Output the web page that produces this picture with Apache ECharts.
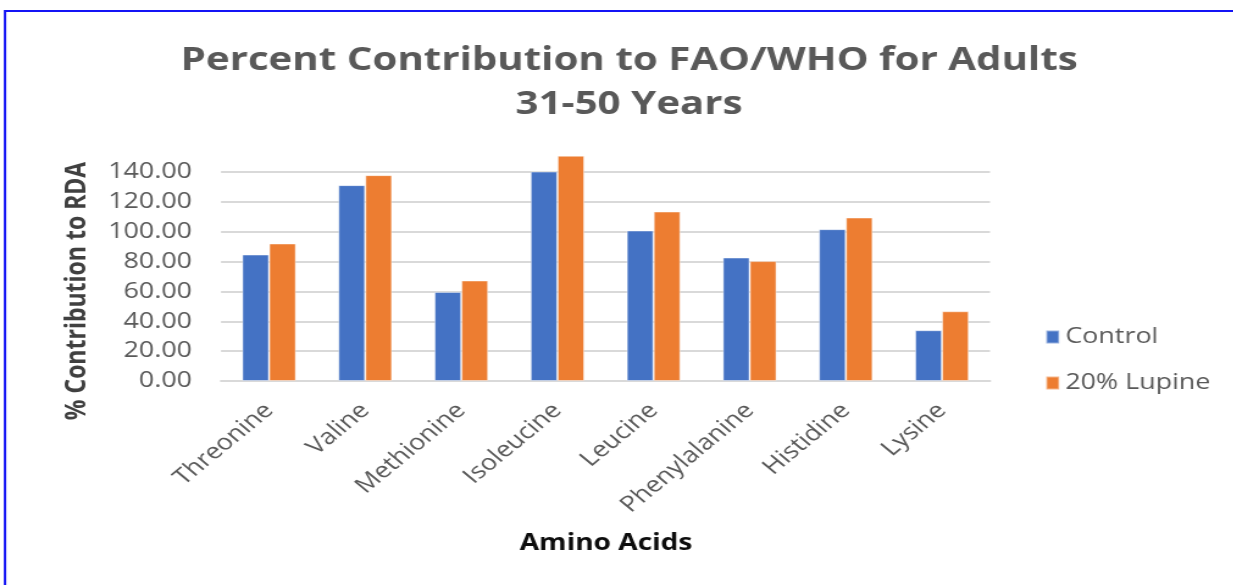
<!DOCTYPE html>
<html>
<head>
<meta charset="utf-8">
<script src="https://cdn.jsdelivr.net/npm/echarts@6/dist/echarts.min.js"></script>
<style>
  html, body { margin: 0; padding: 0; background: #fff; overflow: hidden; }
  #wrap { width: 1234px; height: 585px; overflow: hidden; position: relative; }
  #chart { height: 585px; transform-origin: 0 0; }
</style>
</head>
<body>
<div id="wrap"><div id="chart"></div></div>
<script>
// Amino acid contribution (% of RDA), adults 31-50 years
const categories = ['Threonine', 'Valine', 'Methionine', 'Isoleucine', 'Leucine', 'Phenylalanine', 'Histidine', 'Lysine'];
const controlValues = [84.7, 131.2, 59.7, 140.3, 100.8, 82.7, 101.7, 34.0];
const lupineValues = [92.1, 137.9, 67.3, 150.9, 113.5, 80.3, 109.5, 46.7];
const seriesNames = ['Control', '20% Lupine'];

// The chart is drawn on a narrower canvas and widened horizontally,
// giving the broad lettering of the original workbook chart.
const S = 1.22;
const W = 1234 / S;
const px = x => x / S;

const el = document.getElementById('chart');
el.style.width = W + 'px';
el.style.transform = 'scaleX(' + S + ')';

const chart = echarts.init(el, null, { renderer: 'canvas', width: W, height: 585 });

const FONT = '"Open Sans", "Noto Sans", sans-serif';
const GRID = '#d9d9d9';

chart.setOption({
  animation: false,
  backgroundColor: '#ffffff',
  title: {
    text: 'Percent Contribution to FAO/WHO for Adults\n31-50 Years',
    left: px(623),
    top: 34,
    textAlign: 'center',
    textStyle: {
      fontFamily: FONT,
      fontWeight: 'bold',
      fontSize: 33,
      lineHeight: 44,
      color: '#595959'
    }
  },
  legend: {
    orient: 'vertical',
    left: px(1045),
    top: 326,
    padding: 0,
    icon: 'rect',
    itemWidth: px(13),
    itemHeight: 13,
    itemGap: 24,
    itemTextGap: px(10),
    textStyle: { fontFamily: FONT, fontSize: 22, color: '#595959' },
    data: seriesNames
  },
  grid: {
    left: px(221),
    right: W - px(990),
    top: 172,
    bottom: 585 - 381,
    containLabel: false
  },
  xAxis: {
    type: 'category',
    data: categories,
    axisLine: { lineStyle: { color: GRID, width: 2 } },
    axisTick: { show: false },
    axisLabel: {
      rotate: 45,
      margin: 26,
      interval: 0,
      fontFamily: FONT,
      fontSize: 22,
      color: '#595959'
    }
  },
  yAxis: {
    type: 'value',
    min: 0,
    max: 140,
    interval: 20,
    axisLine: { show: false },
    axisTick: { show: false },
    splitLine: { lineStyle: { color: GRID, width: 2 } },
    axisLabel: {
      margin: px(29),
      fontFamily: FONT,
      fontSize: 22,
      color: '#595959',
      formatter: v => v.toFixed(2)
    }
  },
  graphic: [
    {
      type: 'rect',
      silent: true,
      shape: { x: px(5), y: 11, width: 3000, height: 1000 },
      style: { fill: 'none', stroke: '#1414f5', lineWidth: 2 }
    },
    {
      type: 'text',
      x: px(78),
      y: 291,
      rotation: Math.PI / 2,
      style: {
        text: '% Contribution to RDA',
        fontFamily: FONT,
        fontWeight: 'bold',
        fontSize: 23,
        fill: '#404040',
        textAlign: 'center',
        textVerticalAlign: 'middle'
      }
    },
    {
      type: 'text',
      x: px(606),
      y: 543,
      style: {
        text: 'Amino Acids',
        fontFamily: FONT,
        fontWeight: 'bold',
        fontSize: 23,
        fill: '#0d0d0d',
        textAlign: 'center',
        textVerticalAlign: 'middle'
      }
    }
  ],
  series: [
    {
      name: seriesNames[0],
      type: 'bar',
      data: controlValues,
      clip: false,
      barGap: '0%',
      barCategoryGap: '44%',
      itemStyle: { color: '#4472c4', borderColor: 'rgba(255,255,255,0.45)', borderWidth: 1 }
    },
    {
      name: seriesNames[1],
      type: 'bar',
      data: lupineValues,
      clip: false,
      barGap: '0%',
      barCategoryGap: '44%',
      itemStyle: { color: '#ed7d31', borderColor: 'rgba(255,255,255,0.45)', borderWidth: 1 }
    }
  ]
});
</script>
</body>
</html>
